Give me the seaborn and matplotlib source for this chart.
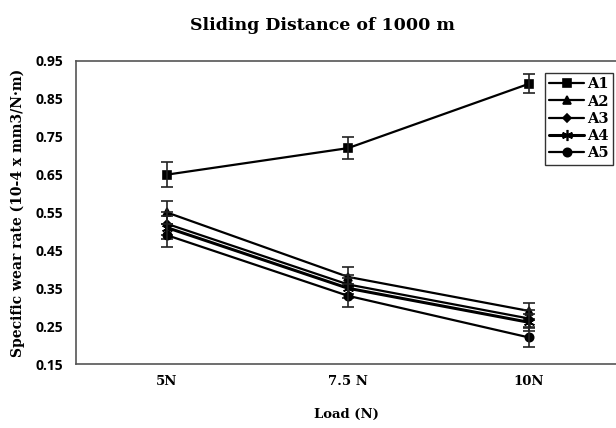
import matplotlib
matplotlib.use("Agg")
import matplotlib.pyplot as plt
import seaborn as sns
import pandas as pd

loads = ["5N", "7.5 N", "10N"]
series = ["A1", "A2", "A3", "A4", "A5"]
a1 = [0.65, 0.72, 0.89]
a2 = [0.55, 0.38, 0.29]
a3 = [0.52, 0.36, 0.27]
a4 = [0.51, 0.35, 0.26]
a5 = [0.49, 0.33, 0.22]
err_a1 = [0.033, 0.03, 0.025]
err_a2 = [0.03, 0.026, 0.022]
err_a3 = [0.03, 0.026, 0.022]
err_a4 = [0.03, 0.026, 0.022]
err_a5 = [0.03, 0.03, 0.024]

values = [a1, a2, a3, a4, a5]
errors = [err_a1, err_a2, err_a3, err_a4, err_a5]

rows = []
for s, vals in zip(series, values):
    for l, v in zip(loads, vals):
        rows.append({"Load": l, "Rate": v, "Sample": s})
df = pd.DataFrame(rows)

sns.set_theme(style="white")
plt.rcParams["text.color"] = "black"
plt.rcParams["axes.labelcolor"] = "black"
plt.rcParams["xtick.color"] = "black"
plt.rcParams["ytick.color"] = "black"
serif = ["DejaVu Serif"]
sans = ["Open Sans", "DejaVu Sans"]

fig = plt.figure(figsize=(6.16, 4.28), dpi=100)
ax = fig.add_axes([76/616, 1-364/428, 1-76/616, (364-61)/428])

markers = {"A1": "s", "A2": "^", "A3": "D", "A4": (6, 2, 0), "A5": "o"}
sizes = {"A1": 6, "A2": 6, "A3": 4, "A4": 8, "A5": 6}
lws = {"A1": 1.6, "A2": 1.6, "A3": 1.6, "A4": 2.2, "A5": 1.6}

for s, vals, errs in zip(series, values, errors):
    sub = df[df["Sample"] == s]
    sns.lineplot(data=sub, x="Load", y="Rate", ax=ax, color="black",
                 marker=markers[s], markersize=sizes[s], linewidth=lws[s],
                 markeredgecolor="black", markeredgewidth=1.2,
                 label=s, sort=False)
    ax.errorbar(range(len(loads)), vals, yerr=errs, fmt="none",
                ecolor="#222222", elinewidth=1.2, capsize=4, capthick=1.2)

ax.set_xlim(-0.503, 2.48)
ax.set_ylim(0.15, 0.95)
ax.set_yticks([0.15, 0.25, 0.35, 0.45, 0.55, 0.65, 0.75, 0.85, 0.95])
ax.set_yticklabels(["0.15", "0.25", "0.35", "0.45", "0.55", "0.65", "0.75", "0.85", "0.95"],
                   fontfamily=sans, fontweight="bold", fontsize=10)
ax.set_xticks(range(len(loads)))
ax.set_xticklabels(loads, fontfamily=serif, fontweight="bold", fontsize=9.5)
ax.tick_params(axis="x", pad=8, length=0)
ax.tick_params(axis="y", pad=9, length=0)

for side in ["left", "bottom", "top"]:
    ax.spines[side].set_color("#555555")
    ax.spines[side].set_linewidth(1.2)
ax.spines["right"].set_visible(False)

ax.set_xlabel("Load (N)", fontfamily=serif, fontweight="bold", fontsize=9.5, labelpad=14)
ax.set_ylabel("Specific wear rate (10-4 x mm3/N·m)", fontfamily=serif,
              fontweight="bold", fontsize=10, labelpad=8)

fig.text(322/616, 1 - 25/428, "Sliding Distance of 1000 m", ha="center", va="center",
         fontfamily=serif, fontweight="bold", fontsize=12.5)

leg = ax.legend(loc="upper right", bbox_to_anchor=(1.0, 0.97), frameon=True,
                fancybox=False, edgecolor="black", handlelength=2.4,
                borderpad=0.3, labelspacing=0.22, handletextpad=0.2,
                borderaxespad=0.2,
                prop={"family": serif, "weight": "bold", "size": 10.5})
leg.get_frame().set_linewidth(1.0)

fig.savefig("out.png", dpi=100)
